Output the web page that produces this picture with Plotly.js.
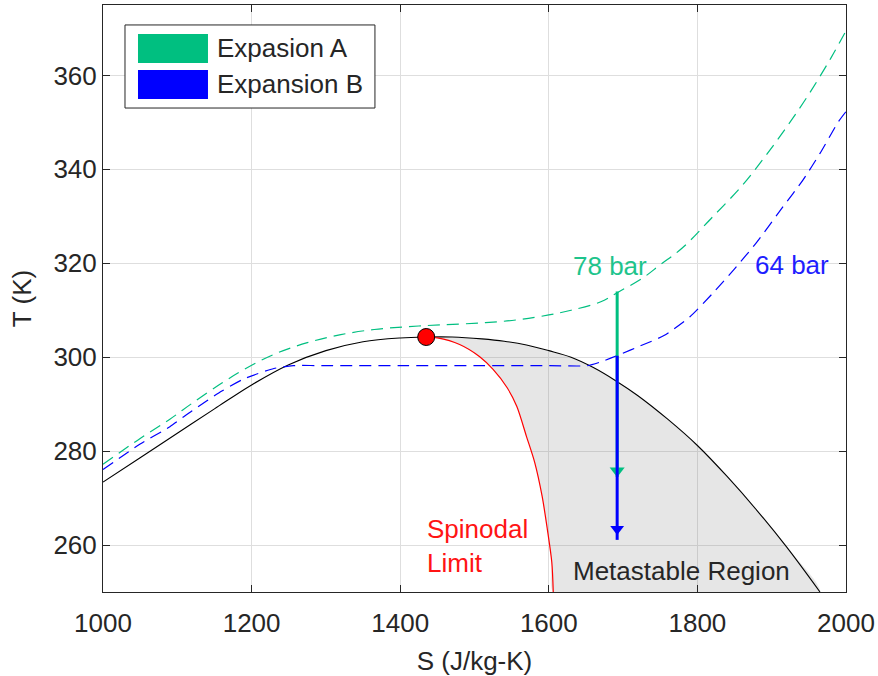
<!DOCTYPE html>
<html>
<head>
<meta charset="utf-8">
<script src="https://cdn.plot.ly/plotly-3.0.1.min.js"></script>
<style>
  html, body { margin: 0; padding: 0; background: #ffffff; }
  #chart { width: 878px; height: 676px; }
</style>
</head>
<body>
<div id="chart"></div>
<script>
// ---- Data ----
// Saturation dome (black)
const domeS = [1000, 1050, 1100, 1150, 1200, 1250, 1300, 1350, 1400, 1435, 1470, 1510, 1540, 1570, 1600, 1630, 1660, 1690, 1720, 1760, 1800, 1840, 1880, 1920, 1965];
const domeT = [273.4, 278.6, 283.8, 289.0, 294.1, 298.4, 301.4, 303.3, 304.1, 304.3, 304.3, 303.9, 303.4, 302.6, 301.4, 300.0, 297.8, 295.0, 291.8, 286.8, 281.2, 274.6, 267.4, 259.6, 250.0];

// Spinodal limit (red)
const spinS = [1435, 1450, 1480, 1507, 1525, 1544, 1557, 1570, 1581, 1591, 1598, 1604, 1606];
const spinT = [304.3, 304.1, 302.7, 300.1, 297.4, 293.5, 289.5, 283.1, 277.6, 270.4, 263.4, 256.4, 250.0];

// Isobar 78 bar (Expasion A, green dashed)
const isoAS = [1000, 1050, 1090, 1120, 1160, 1190, 1230, 1275, 1320, 1365, 1410, 1455, 1510, 1560, 1600, 1630, 1670, 1695, 1725, 1750, 1780, 1820, 1860, 1890, 1920, 1950, 1980, 2000];
const isoAT = [277.2, 282.7, 286.8, 290.2, 294.5, 297.4, 300.6, 303.1, 304.8, 305.9, 306.5, 306.9, 307.3, 308.0, 309.0, 310.0, 311.8, 314.0, 316.7, 319.7, 323.3, 329.8, 336.5, 342.5, 349.0, 356.0, 363.8, 369.5];

// Isobar 64 bar (Expansion B, blue dashed)
const isoBS = [1000, 1050, 1090, 1120, 1160, 1190, 1230, 1256, 1300, 1400, 1500, 1600, 1652, 1670, 1696, 1723, 1755, 1790, 1820, 1850, 1880, 1915, 1942, 1965, 1990, 2000];
const isoBT = [276.1, 281.5, 285.2, 288.6, 292.8, 295.4, 297.6, 298.2, 298.2, 298.2, 298.2, 298.2, 298.2, 299.0, 300.6, 302.4, 304.6, 308.6, 313.5, 318.8, 324.5, 332.0, 337.7, 343.4, 350.2, 352.3];

// Expansion arrows (vertical, at constant S)
const arrowS = [1692, 1692];             // [A, B]
const arrowStartT = [314.0, 300.3];      // [A, B]
const arrowEndT = [274.5, 261.1];        // [A, B]
const arrowHeadT = [275.8, 263.4];       // [A, B]

// Critical point
const critS = [1435];
const critT = [304.3];

// Labels
const seriesNames = ['Expasion A', 'Expansion B'];
const isoLabels = ['78 bar', '64 bar'];
const isoLabelS = [1682, 1927];
const isoLabelT = [319.4, 319.6];
const spinLabel = 'Spinodal<br>Limit';
const spinLabelPos = [1433, 259.7];
const metaLabel = 'Metastable Region';
const metaLabelPos = [1778, 254.4];

const xTicks = [1000, 1200, 1400, 1600, 1800, 2000];
const yTicks = [260, 280, 300, 320, 340, 360];

// ---- Styles ----
const GREEN = 'rgb(0,191,128)';
const BLUE = 'rgb(0,0,255)';
const RED = 'rgb(255,0,0)';
const DARK = 'rgb(38,38,38)';
const FONT = 'Liberation Sans, Arial, sans-serif';

// Metastable region polygon: spinodal down, then dome (right branch) back up
const domeRightS = [], domeRightT = [];
for (let i = domeS.length - 1; i >= 0; i--) {
  if (domeS[i] >= critS[0]) { domeRightS.push(domeS[i]); domeRightT.push(domeT[i]); }
}
const regionS = spinS.concat(domeRightS);
const regionT = spinT.concat(domeRightT);

const traces = [
  { x: regionS, y: regionT, type: 'scatter', mode: 'lines', fill: 'toself',
    fillcolor: 'rgba(120,120,120,0.19)', line: { width: 0, color: 'rgba(0,0,0,0)', shape: 'spline', smoothing: 0.6 },
    hoverinfo: 'skip', showlegend: false },
  { x: domeS, y: domeT, type: 'scatter', mode: 'lines', name: 'Saturation',
    line: { color: 'black', width: 1.1, shape: 'spline', smoothing: 1 }, showlegend: false },
  { x: isoBS, y: isoBT, type: 'scatter', mode: 'lines', name: isoLabels[1],
    line: { color: BLUE, width: 1.2, dash: '12px,7px', shape: 'spline', smoothing: 0.6 }, showlegend: false },
  { x: isoAS, y: isoAT, type: 'scatter', mode: 'lines', name: isoLabels[0],
    line: { color: GREEN, width: 1.2, dash: '12px,7px', shape: 'spline', smoothing: 1 }, showlegend: false },
  { x: spinS, y: spinT, type: 'scatter', mode: 'lines', name: 'Spinodal',
    line: { color: RED, width: 1.2, shape: 'spline', smoothing: 0.8 }, showlegend: false },
  // Expansion A arrow
  { x: [arrowS[0], arrowS[0]], y: [arrowStartT[0], arrowEndT[0]], type: 'scatter', mode: 'lines',
    name: seriesNames[0], line: { color: GREEN, width: 3 }, showlegend: false },
  { x: [arrowS[0]], y: [arrowHeadT[0]], type: 'scatter', mode: 'markers', showlegend: false,
    marker: { symbol: 'triangle-down', size: 13, color: GREEN }, hoverinfo: 'skip' },
  // Expansion B arrow
  { x: [arrowS[1], arrowS[1]], y: [arrowStartT[1], arrowEndT[1]], type: 'scatter', mode: 'lines',
    name: seriesNames[1], line: { color: BLUE, width: 3 }, showlegend: false },
  { x: [arrowS[1]], y: [arrowHeadT[1]], type: 'scatter', mode: 'markers', showlegend: false,
    marker: { symbol: 'triangle-down', size: 12, color: BLUE }, hoverinfo: 'skip' },
  // Critical point
  { x: critS, y: critT, type: 'scatter', mode: 'markers', name: 'Critical point', showlegend: false,
    marker: { symbol: 'circle', size: 17, color: RED, line: { color: 'black', width: 1 } } }
];

const annotations = [
  { x: isoLabelS[0], y: isoLabelT[0], xref: 'x', yref: 'y', text: isoLabels[0], showarrow: false,
    font: { family: FONT, size: 26, color: 'rgb(30,196,140)' }, xanchor: 'center', yanchor: 'middle' },
  { x: isoLabelS[1], y: isoLabelT[1], xref: 'x', yref: 'y', text: isoLabels[1], showarrow: false,
    font: { family: FONT, size: 26, color: 'rgb(30,30,255)' }, xanchor: 'center', yanchor: 'middle' },
  { x: spinLabelPos[0], y: spinLabelPos[1], xref: 'x', yref: 'y', text: spinLabel, showarrow: false,
    align: 'left', font: { family: FONT, size: 26, color: 'rgb(255,20,20)' }, xanchor: 'left', yanchor: 'middle' },
  { x: metaLabelPos[0], y: metaLabelPos[1], xref: 'x', yref: 'y', text: metaLabel, showarrow: false,
    font: { family: FONT, size: 26, color: DARK }, xanchor: 'center', yanchor: 'middle' },
  // Legend texts
  { x: 0.1507, y: 0.9267, xref: 'paper', yref: 'paper', text: seriesNames[0], showarrow: false,
    font: { family: FONT, size: 26, color: DARK }, xanchor: 'left', yanchor: 'middle' },
  { x: 0.1507, y: 0.8654, xref: 'paper', yref: 'paper', text: seriesNames[1], showarrow: false,
    font: { family: FONT, size: 26, color: DARK }, xanchor: 'left', yanchor: 'middle' }
];

const shapes = [
  // Legend box
  { type: 'rect', xref: 'paper', yref: 'paper', x0: 0.0296, x1: 0.3660, y0: 0.8245, y1: 0.9660,
    fillcolor: 'white', line: { color: DARK, width: 1 }, layer: 'above' },
  { type: 'rect', xref: 'paper', yref: 'paper', x0: 0.0471, x1: 0.1413, y0: 0.9010, y1: 0.9506,
    fillcolor: GREEN, line: { width: 0 }, layer: 'above' },
  { type: 'rect', xref: 'paper', yref: 'paper', x0: 0.0471, x1: 0.1413, y0: 0.8399, y1: 0.8893,
    fillcolor: BLUE, line: { width: 0 }, layer: 'above' }
];

const axisCommon = {
  showgrid: true, gridcolor: 'rgb(222,222,222)', gridwidth: 1,
  zeroline: false, showline: true, linecolor: DARK, linewidth: 1,
  mirror: 'allticks', ticks: 'inside', ticklen: 7, tickwidth: 1, tickcolor: DARK,
  tickfont: { family: FONT, size: 26, color: DARK }
};

const layout = {
  width: 878, height: 676,
  margin: { l: 103, r: 32, t: 5, b: 84, pad: 0 },
  paper_bgcolor: 'white', plot_bgcolor: 'white',
  showlegend: false,
  xaxis: Object.assign({}, axisCommon, {
    range: [1000, 2000], tickvals: xTicks, ticktext: xTicks.map(String),
    ticklabelstandoff: 8,
    title: { text: 'S (J/kg-K)', font: { family: FONT, size: 26, color: DARK }, standoff: 16 },
    automargin: false
  }),
  yaxis: Object.assign({}, axisCommon, {
    range: [250, 375], tickvals: yTicks, ticktext: yTicks.map(String),
    title: { text: 'T (K)', font: { family: FONT, size: 26, color: DARK }, standoff: 14 },
    automargin: false
  }),
  annotations: annotations,
  shapes: shapes
};

Plotly.newPlot('chart', traces, layout, { displayModeBar: false, staticPlot: true });
</script>
</body>
</html>
